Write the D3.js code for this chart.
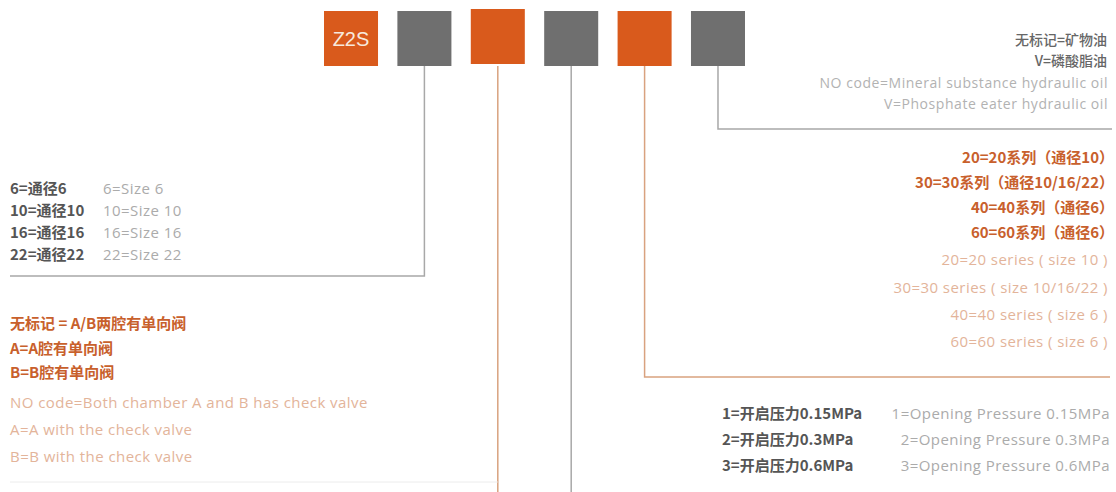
<!DOCTYPE html>
<html>
<head>
<meta charset="utf-8">
<script src="https://cdn.jsdelivr.net/npm/d3@7"></script>
<style>
  html, body { margin: 0; padding: 0; background: #ffffff; }
  svg { display: block; }
</style>
</head>
<body>
<svg id="chart" width="1116" height="492"></svg>
<script>
// ---------- data ----------
const codeLabels = ["Z2S", "", "", "", "", ""];
const codeKinds  = ["orange", "gray", "orange", "gray", "orange", "gray"];

const sizeCn = ["6=通径6", "10=通径10", "16=通径16", "22=通径22"];
const sizeEn = ["6=Size 6", "10=Size 10", "16=Size 16", "22=Size 22"];

const valveCn = ["无标记 = A/B两腔有单向阀", "A=A腔有单向阀", "B=B腔有单向阀"];
const valveEn = ["NO code=Both chamber A and B has check valve", "A=A with the check valve", "B=B with the check valve"];

const seriesCn = ["20=20系列（通径10）", "30=30系列（通径10/16/22）", "40=40系列（通径6）", "60=60系列（通径6）"];
const seriesEn = ["20=20 series ( size 10 )", "30=30 series ( size 10/16/22 )", "40=40 series ( size 6 )", "60=60 series ( size 6 )"];

const oilCn = ["无标记=矿物油", "V=磷酸脂油"];
const oilEn = ["NO code=Mineral substance hydraulic oil", "V=Phosphate eater hydraulic oil"];

const pressureCn = ["1=开启压力0.15MPa", "2=开启压力0.3MPa", "3=开启压力0.6MPa"];
const pressureEn = ["1=Opening Pressure 0.15MPa", "2=Opening Pressure 0.3MPa", "3=Opening Pressure 0.6MPa"];

// ---------- styles ----------
const C = {
  orange: "#d95a1c",
  gray: "#6f6f6f",
  lineGray: "#a8a8a8",
  lineOrange: "#d9a27f",
  cnGray: "#555555",
  enGray: "#ababab",
  cnOrange: "#c8602c",
  enOrange: "#e3b49a",
  oilCn: "#666666",
  oilEn: "#b2b2b2"
};
const CN_FONT = "'Noto Sans CJK SC', 'Noto Sans', sans-serif";
const EN_FONT = "'Open Sans', 'Liberation Sans', Arial, sans-serif";

const svg = d3.select("#chart");

// ---------- code boxes ----------
const xBox = d3.scaleBand().domain(d3.range(codeLabels.length)).range([324, 745]).paddingInner(0.264).paddingOuter(0);
const boxTop = 11, boxH = 55;
const boxBottom = boxTop + boxH;

// connectors
const cx = i => xBox(i) + xBox.bandwidth() / 2;
const connectors = [
  { pts: [[cx(1), boxBottom], [cx(1), 276], [10, 276]], color: C.lineGray },
  { pts: [[cx(2), boxBottom], [cx(2), 492]], color: C.lineOrange },
  { pts: [[cx(3), boxBottom], [cx(3), 492]], color: C.lineGray },
  { pts: [[cx(4), boxBottom], [cx(4), 377], [1110, 377]], color: C.lineOrange },
  { pts: [[cx(5), boxBottom], [cx(5), 129], [1112, 129]], color: C.lineGray }
];
svg.append("g").selectAll("path").data(connectors).join("path")
  .attr("d", d => d3.line()(d.pts))
  .attr("fill", "none")
  .attr("stroke", d => d.color)
  .attr("stroke-width", 1.5);

// faint bottom rule under the check-valve block
svg.append("line").attr("x1", 10).attr("x2", cx(2)).attr("y1", 482).attr("y2", 482)
  .attr("stroke", "#ececec").attr("stroke-width", 1);

const boxes = svg.append("g").selectAll("g").data(codeLabels).join("g");
boxes.append("rect")
  .attr("x", (d, i) => xBox(i))
  .attr("y", (d, i) => i === 2 ? boxTop - 2 : boxTop)
  .attr("width", xBox.bandwidth())
  .attr("height", boxH)
  .attr("fill", (d, i) => C[codeKinds[i]]);
boxes.append("text")
  .attr("x", (d, i) => cx(i))
  .attr("y", boxTop + boxH / 2)
  .attr("dy", "0.36em")
  .attr("text-anchor", "middle")
  .attr("font-family", "'Liberation Sans', Arial, sans-serif")
  .attr("font-size", 20)
  .attr("fill", "#f7e9dc")
  .text(d => d);

// ---------- text blocks ----------
function block(lines, opts) {
  const y = d3.scaleLinear().domain([0, 1]).range([opts.y0, opts.y0 + opts.step]);
  svg.append("g").selectAll("text").data(lines).join("text")
    .attr("x", opts.x)
    .attr("y", (d, i) => y(i))
    .attr("dy", "0.35em")
    .attr("text-anchor", opts.anchor || "start")
    .attr("font-family", opts.font)
    .attr("font-size", opts.size)
    .attr("font-weight", opts.weight || 400)
    .attr("letter-spacing", opts.ls || 0)
    .attr("fill", opts.color)
    .text(d => d);
}

// size block
block(sizeCn, { x: 10, y0: 189, step: 22, font: CN_FONT, size: 15, weight: 700, color: C.cnGray });
block(sizeEn, { x: 103, y0: 189, step: 22, font: EN_FONT, size: 15, ls: 0.45, color: C.enGray });

// check valve block
block(valveCn, { x: 10, y0: 324, step: 24.5, font: CN_FONT, size: 15, weight: 700, color: C.cnOrange });
block(valveEn, { x: 10, y0: 403, step: 27, font: EN_FONT, size: 15, ls: 0.45, color: C.enOrange });

// series block
block(seriesCn, { x: 1114, y0: 158, step: 25, font: CN_FONT, size: 15, weight: 700, color: C.cnOrange, anchor: "end" });
block(seriesEn, { x: 1108, y0: 260, step: 27.3, font: EN_FONT, size: 15, ls: 0.45, color: C.enOrange, anchor: "end" });

// oil block
block(oilCn, { x: 1107, y0: 40, step: 21.5, font: CN_FONT, size: 14, weight: 500, color: C.oilCn, anchor: "end" });
block(oilEn, { x: 1108, y0: 83, step: 21, font: EN_FONT, size: 14, ls: 0.55, color: C.oilEn, anchor: "end" });

// pressure block
block(pressureCn, { x: 722, y0: 414, step: 26, font: CN_FONT, size: 15, weight: 700, color: C.cnGray });
block(pressureEn, { x: 1110, y0: 414, step: 26, font: EN_FONT, size: 15, ls: 0.45, color: C.enGray, anchor: "end" });
</script>
</body>
</html>
